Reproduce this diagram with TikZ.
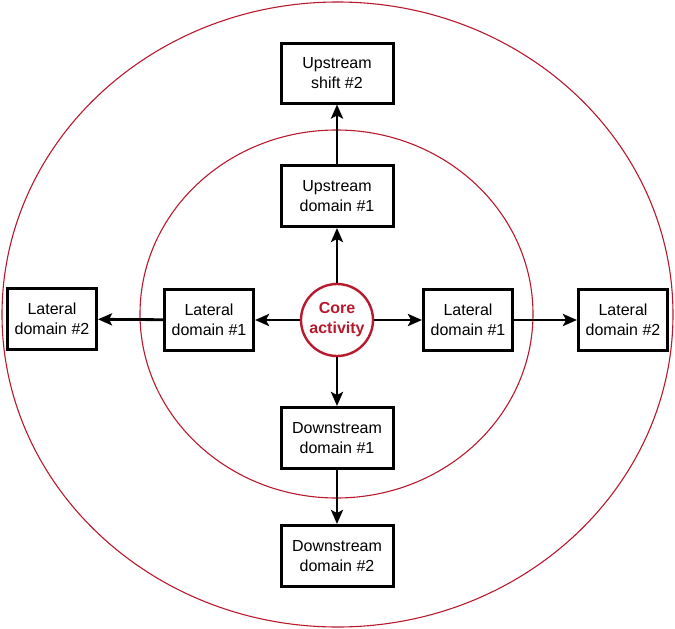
\documentclass[tikz,border=0pt]{standalone}
\usepackage{fontspec}
\setmainfont{Liberation Sans}
\usetikzlibrary{arrows.meta}
\definecolor{corered}{RGB}{185,25,45}
\begin{document}
\begin{tikzpicture}[x=1pt,y=-1pt,
  dombox/.style={draw=black,line width=3pt,fill=white,align=center,inner sep=0pt,font=\fontsize{16}{20}\selectfont},
  ring/.style={draw=corered,line width=1.1pt},
  conn/.style={line width=2.8pt,-{Stealth[length=14pt,width=12pt,inset=3pt]}}]
\useasboundingbox (0,0) rectangle (675,629);
\draw[ring] (337.5,314.5) ellipse [x radius=335.5, y radius=312.5];
\draw[ring] (336.5,314) ellipse [x radius=196.5, y radius=184];
\node[dombox,minimum width=112pt,minimum height=60pt] (us2) at (337,73) {Upstream\\shift \#2};
\node[dombox,minimum width=112pt,minimum height=61pt] (us1) at (337,196) {Upstream\\domain \#1};
\node[dombox,minimum width=112pt,minimum height=61pt] (ds1) at (337,438) {Downstream\\domain \#1};
\node[dombox,minimum width=112pt,minimum height=61pt] (ds2) at (337,556) {Downstream\\domain \#2};
\node[dombox,minimum width=89pt,minimum height=61pt] (ll1) at (209,320) {Lateral\\domain \#1};
\node[dombox,minimum width=89pt,minimum height=61pt] (rl1) at (468,320) {Lateral\\domain \#1};
\node[dombox,minimum width=89pt,minimum height=61pt] (ll2) at (52,319) {Lateral\\domain \#2};
\node[dombox,minimum width=89pt,minimum height=61pt] (rl2) at (623,320) {Lateral\\domain \#2};
\node[circle,draw=corered,line width=2.4pt,fill=white,minimum size=72pt,inner sep=0pt,align=center,text=corered,font=\fontsize{16}{20}\selectfont\bfseries] (core) at (337,320) {Core\\activity};
\draw[conn] (core) -- (us1);
\draw[conn] (us1) -- (us2);
\draw[conn] (core) -- (ds1);
\draw[conn] (ds1) -- (ds2);
\draw[conn] (core) -- (ll1);
\draw[conn] (ll1) -- (ll2);
\draw[conn] (core) -- (rl1);
\draw[conn] (rl1) -- (rl2);
\end{tikzpicture}
\end{document}
